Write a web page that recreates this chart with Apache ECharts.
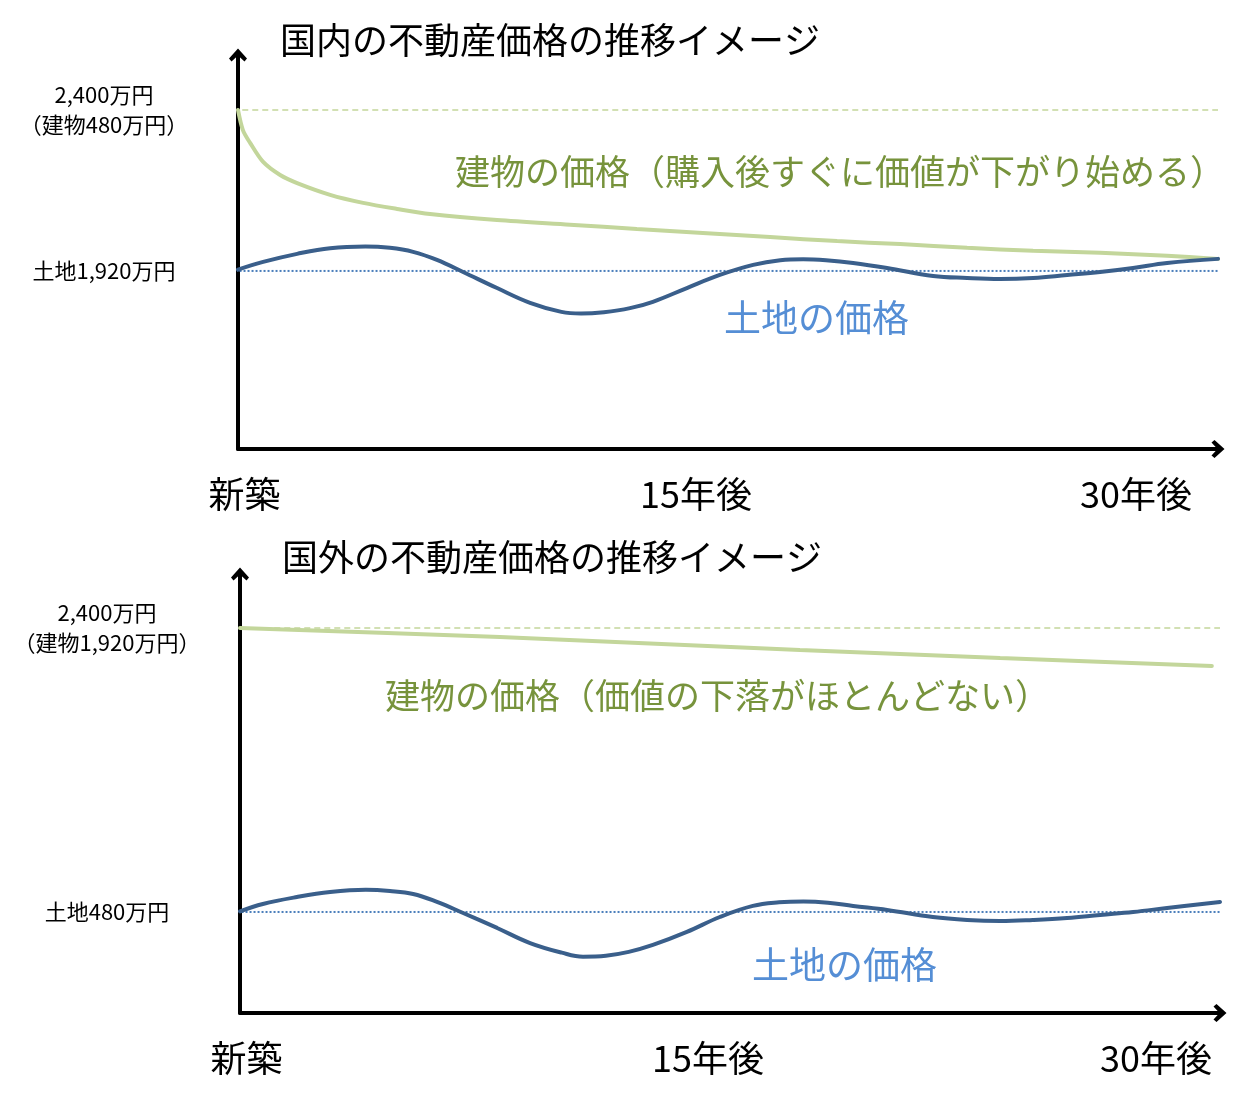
<!DOCTYPE html>
<html>
<head>
<meta charset="utf-8">
<script src="https://cdn.jsdelivr.net/npm/echarts@6/dist/echarts.min.js"></script>
<style>
html,body{margin:0;padding:0;background:#fff;}
#chart{width:1247px;height:1105px;}
</style>
</head>
<body>
<div id="chart"></div>
<script>
// ---- Data (years after construction, value in 万円) ----
const titles = ['国内の不動産価格の推移イメージ', '国外の不動産価格の推移イメージ'];
const buildingNotes = ['建物の価格（購入後すぐに価値が下がり始める）', '建物の価格（価値の下落がほとんどない）'];
const landNote = '土地の価格';

const xTickValues = [0, 15, 30];
const xTickLabels = ['新築', '15年後', '30年後'];

const domesticRefTotal = 2400;
const domesticRefLand = 1920;
const domesticYLabels = { 2400: '2,400万円\n（建物480万円）', 1920: '土地1,920万円' };

const foreignRefTotal = 2400;
const foreignRefLand = 480;
const foreignYLabels = { 2400: '2,400万円\n（建物1,920万円）', 480: '土地480万円' };

const domesticBuilding = [
  [0, 2400], [0.15, 2340], [0.37, 2302], [0.77, 2245], [1.29, 2206], [1.81, 2182],
  [2.82, 2147], [3.83, 2123], [4.87, 2105], [5.88, 2090], [7.93, 2072], [10.16, 2058],
  [12.21, 2045], [14.23, 2033], [16.29, 2021], [18.34, 2009], [20.27, 2000], [22.32, 1989],
  [24.34, 1980], [26.39, 1974], [28.44, 1965], [30, 1956]
];
const domesticLand = [
  [0, 1924], [0.77, 1947], [1.81, 1971], [2.82, 1988], [3.9, 1993], [4.65, 1989],
  [5.36, 1977], [6.09, 1953], [6.89, 1917], [7.93, 1869], [8.94, 1825], [9.9, 1798],
  [10.5, 1793], [11.2, 1797], [12.0, 1809], [12.7, 1828], [13.74, 1869], [14.75, 1908], [15.77, 1938],
  [16.6, 1952], [17.3, 1955], [18.0, 1952], [18.83, 1944], [19.87, 1929], [21.28, 1905], [22.32, 1899],
  [23.33, 1896], [24.34, 1899], [25.38, 1908], [26.39, 1917], [27.4, 1929], [28.44, 1944], [30, 1956]
];
const foreignBuilding = [
  [0, 2400], [7.96, 2339], [17.14, 2251], [23.27, 2197], [29.75, 2143]
];
const foreignLand = [
  [0, 484], [0.70, 534], [1.74, 581], [2.76, 615], [3.85, 630], [4.59, 622],
  [5.30, 602], [6.03, 548], [6.83, 473], [7.87, 372], [8.88, 270], [9.85, 205],
  [10.5, 178], [11.2, 184], [11.9, 210], [12.64, 257], [13.68, 345], [14.69, 446], [15.70, 521],
  [16.5, 545], [17.25, 551], [18.0, 543], [18.77, 521], [19.81, 494], [21.21, 446], [22.26, 426],
  [23.27, 419], [24.27, 426], [25.32, 439], [26.33, 460], [27.34, 480], [28.38, 507], [30, 548]
];
// reference guide lines extend left past the y axis
const refLineStart = -1.4;
const refDotStart = -1.3;
const refLineEnd = 30;

// ---- Styles ----
const FONT = '"Noto Sans CJK JP", "Noto Sans CJK SC", sans-serif';
const GREEN_LINE = '#c3d69b';
const GREEN_TEXT = '#77933c';
const BLUE_LINE = '#3a5f8b';
const BLUE_DOT = '#4a7ebb';
const BLUE_TEXT = '#558ed5';
const ARROW = 'path://M9,0 L18,10 L15.5,13 L9,7 L2.5,13 L0,10 Z';

const chart = echarts.init(document.getElementById('chart'), null, { renderer: 'canvas' });

function xAxisFor(gridIndex, pads) {
  const rich = {};
  xTickLabels.forEach((t, i) => {
    rich['t' + i] = { fontSize: 36, fontFamily: FONT, color: '#000', padding: pads[i], lineHeight: 40 };
  });
  return {
    type: 'value', gridIndex, min: 0, max: 30,
    axisLine: { show: true, onZero: false, symbol: ['none', ARROW], symbolSize: [18, 14],
      lineStyle: { color: '#000', width: 4 } },
    axisTick: { show: false },
    splitLine: { show: false },
    axisLabel: {
      customValues: xTickValues,
      margin: 25,
      hideOverlap: false,
      formatter: (v) => { const i = xTickValues.indexOf(v); return i < 0 ? '' : '{t' + i + '|' + xTickLabels[i] + '}'; },
      rich
    }
  };
}
function yAxisFor(gridIndex, min, max, labels, margin) {
  return {
    type: 'value', gridIndex, min, max,
    axisLine: { show: true, onZero: true, symbol: ['none', ARROW], symbolSize: [18, 14],
      lineStyle: { color: '#000', width: 4 } },
    axisTick: { show: false },
    splitLine: { show: false },
    axisLabel: {
      customValues: Object.keys(labels).map(Number),
      formatter: (v) => labels[v] || '',
      align: 'center',
      margin,
      fontSize: 22, lineHeight: 30, fontFamily: FONT, color: '#000'
    }
  };
}
function refSeries(xi, value, color, type, width, start) {
  return {
    type: 'line', xAxisIndex: xi, yAxisIndex: xi, clip: false, silent: true,
    symbol: 'none', z: 1,
    data: [[start, value], [refLineEnd, value]],
    lineStyle: { color, width, type }
  };
}
function curve(xi, data, color, smooth, z) {
  return {
    type: 'line', xAxisIndex: xi, yAxisIndex: xi, symbol: 'none', smooth, z, silent: true,
    data, lineStyle: { color, width: 4, cap: 'round' }
  };
}
function text(x, y, str, size, color) {
  return { type: 'text', x, y, silent: true,
    style: { text: str, fill: color, font: size + 'px ' + FONT, textVerticalAlign: 'middle' } };
}

chart.setOption({
  animation: false,
  backgroundColor: '#fff',
  grid: [
    { left: 238, top: 55, width: 980, height: 394, outerBoundsMode: 'none', containLabel: false },
    { left: 240, top: 574, width: 980, height: 439, outerBoundsMode: 'none', containLabel: false }
  ],
  xAxis: [
    xAxisFor(0, [[0, 0, 0, 13], [0, 64, 0, 0], [0, 164, 0, 0]]),
    xAxisFor(1, [[0, 0, 0, 13], [0, 44, 0, 0], [0, 128, 0, 0]])
  ],
  yAxis: [
    yAxisFor(0, 1389, 2564, domesticYLabels, 134),
    yAxisFor(1, -203, 2765, foreignYLabels, 133)
  ],
  series: [
    refSeries(0, domesticRefTotal, GREEN_LINE, [6, 4], 1.5, refLineStart),
    refSeries(0, domesticRefLand, BLUE_DOT, [2, 2], 2, refDotStart),
    curve(0, domesticBuilding, GREEN_LINE, 0.3, 3),
    curve(0, domesticLand, BLUE_LINE, 0.4, 4),
    refSeries(1, foreignRefTotal, GREEN_LINE, [6, 4], 1.5, refLineStart),
    refSeries(1, foreignRefLand, BLUE_DOT, [2, 2], 2, refDotStart),
    curve(1, foreignBuilding, GREEN_LINE, 0.3, 3),
    curve(1, foreignLand, BLUE_LINE, 0.4, 4)
  ],
  graphic: [
    text(280, 40, titles[0], 36, '#000'),
    text(282, 557, titles[1], 36, '#000'),
    text(455, 172, buildingNotes[0], 35, GREEN_TEXT),
    text(385, 696, buildingNotes[1], 35, GREEN_TEXT),
    text(724, 318, landNote, 37, BLUE_TEXT),
    text(752, 965, landNote, 37, BLUE_TEXT)
  ]
});
</script>
</body>
</html>
